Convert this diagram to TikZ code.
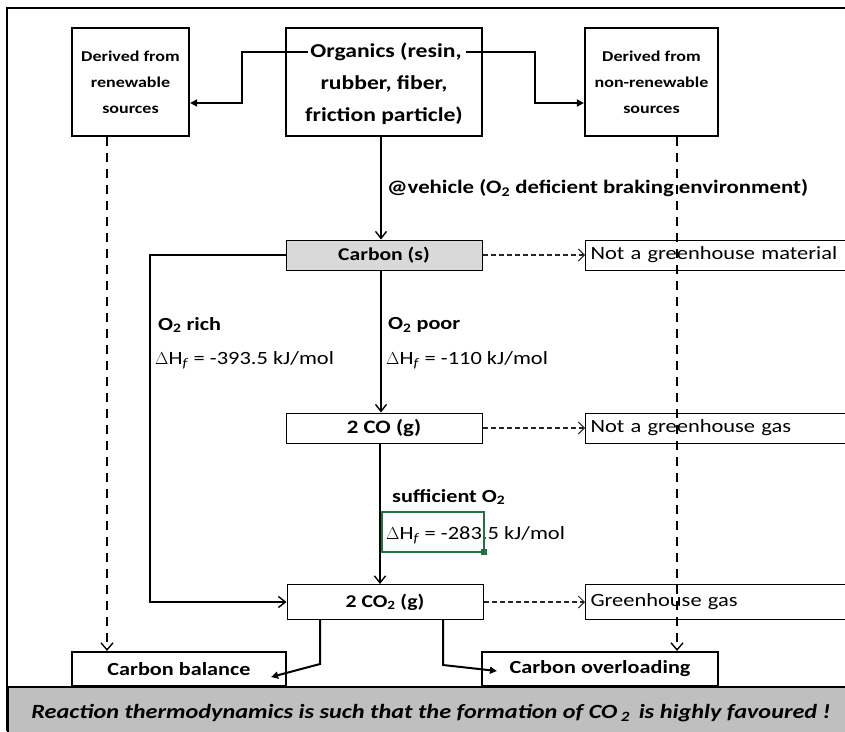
\documentclass[tikz,border=0pt]{standalone}
\usepackage{fontspec}
\setmainfont{Carlito}[FakeStretch=1.2]
\usetikzlibrary{arrows.meta}
\definecolor{boxgray}{HTML}{D9D9D9}
\definecolor{bargray}{HTML}{BFBFBF}
\definecolor{xlgreen}{HTML}{217346}
\newcommand{\sub}[1]{\textsubscript{#1}}
\newcommand{\fs}[1]{\fontsize{#1}{#1}\selectfont}
\begin{document}
\begin{tikzpicture}[x=1pt,y=-1pt,
  topbox/.style={draw, line width=2.2pt, minimum height=108pt, inner sep=0pt, align=center, font=\bfseries\fontsize{15}{26}\selectfont},
  midbox/.style={draw, line width=1pt, minimum width=196pt, minimum height=30pt, inner sep=0pt, font=\bfseries\fs{18}},
  rbox/.style={draw, line width=1pt, minimum height=30pt, text width=255pt, inner xsep=5pt, inner ysep=0pt, align=left, anchor=west, font=\fs{18.7}},
  botbox/.style={draw, line width=2.2pt, minimum height=34pt, inner sep=0pt, font=\bfseries\fs{18.5}},
  lbl/.style={anchor=west, inner sep=0pt, font=\bfseries\fs{18.5}},
  dh/.style={anchor=west, inner sep=0pt, font=\fs{18.7}},
  orgtxt/.style={inner sep=0pt, font=\bfseries\fs{19.7}},
  conn/.style={line width=2pt, -{Triangle[length=7pt,width=7pt]}},
  flow/.style={line width=1.4pt, -{Straight Barb[length=7pt,width=11pt,line width=1.4pt]}},
  dashconn/.style={line width=1.1pt, dash pattern=on 5pt off 3pt, gray!30!black, -{Straight Barb[length=6pt,width=12pt,line width=1pt]}},
  vdash/.style={line width=2pt, dash pattern=on 9pt off 7pt, -{Straight Barb[length=7pt,width=12pt,line width=1.4pt]}}
]
\useasboundingbox (0,0) rectangle (845,731);
\fill[white] (0,0) rectangle (845,731);

% outer frame
\draw[line width=2.2pt] (7,731) -- (7,8) -- (850,8);

% top boxes
\node[topbox, minimum width=117pt] (ren) at (130.5,82) {Derived from\\renewable\\sources};
\node[topbox, minimum width=196pt] (org) at (384,82) {};
\node[orgtxt] (org1) at (386,52) {Organics (resin,};
\node[orgtxt] (org2) at (384,84) {rubber, fiber,};
\node[orgtxt] (org3) at (384,116) {friction particle)};
\node[topbox, minimum width=133pt] (non) at (651.5,82) {Derived from\\non-renewable\\sources};

% middle column
\node[midbox, fill=boxgray] (carbon) at (384,255) {Carbon (s)};
\node[midbox, font=\bfseries\fs{19}] (co) at (384,428) {2 CO (g)};
\node[midbox, minimum height=35pt, font=\bfseries\fs{18}] (co2) at (385,602) {2 CO\sub{2} (g)};

% right boxes
\node[rbox] (nga) at (585,255) {Not a greenhouse material};
\node[rbox] (ngg) at (585,428) {Not a greenhouse gas};
\node[rbox, minimum height=35pt] (gg) at (585,602) {Greenhouse gas};

% bottom boxes
\node[botbox, minimum width=214pt] (cbal) at (179,669) {Carbon balance};
\node[botbox, minimum width=236pt] (cover) at (600,669) {Carbon overloading};

% labels
\node[lbl, font=\bfseries\fs{19}] (veh) at (387,188) {@vehicle (O\sub{2} deficient braking environment)};
\node[lbl] (rich) at (158,325) {O\sub{2} rich};
\node[dh] (dhrich) at (155,360) {$\Delta$H\sub{\textit{f}} = -393.5 kJ/mol};
\node[lbl] (poor) at (388,325) {O\sub{2} poor};
\node[dh] (dhpoor) at (386,360) {$\Delta$H\sub{\textit{f}} = -110 kJ/mol};
\node[lbl] (suff) at (392,497) {sufficient O\sub{2}};
\node[dh] (dhsuff) at (386,535) {$\Delta$H\sub{\textit{f}} = -283.5 kJ/mol};

% green selection artefact
\draw[xlgreen, line width=1.6pt] (382,512) rectangle (484,552);
\fill[xlgreen] (481,549) rectangle (487,555);

% connectors from organics
\draw[conn] ([xshift=-2pt]org1.west) -- (242,52) |- ([yshift=-21pt]ren.east);
\draw[conn] ([xshift=4pt]org1.east) -- (535,52) |- ([yshift=-21pt]non.west);

% main flow
\draw[flow] ([xshift=-3pt]org.south) -- ([xshift=-3pt]carbon.north);
\draw[flow] ([xshift=-3pt]carbon.south) -- ([xshift=-3pt]co.north);
\draw[flow] ([xshift=-4pt]co.south) -- ([xshift=-4pt]co.south |- co2.north);
\draw[flow] (carbon.west) -- (150,255) |- (co2.west);

% dashed to right boxes
\draw[dashconn] (carbon.east) -- (nga.west);
\draw[dashconn] (co.east) -- (ngg.west);
\draw[dashconn] (co2.east) -- (gg.west);

% vertical dashed
\draw[vdash] ([xshift=-23.5pt]ren.south) -- ([xshift=-23.5pt]ren.south |- cbal.north);
\draw[vdash] ([xshift=25.5pt]non.south) -- ([xshift=25.5pt]non.south |- cover.north);

% bottom connectors
\draw[conn] ([xshift=-65pt]co2.south) -- ++(0,44) -- ([xshift=-16pt,yshift=-8pt]cbal.east);
\draw[conn] ([xshift=58pt]co2.south) -- ++(0,45) -- ([xshift=16pt,yshift=-2pt]cover.west);

% bottom bar
\node[draw, line width=2.2pt, fill=bargray, minimum width=843pt, minimum height=46pt, inner sep=0pt, anchor=north west] (bar) at (7,686) {};
\node[inner sep=0pt, font=\bfseries\itshape\fs{20.2}] (bartext) at (431,713) {Reaction thermodynamics is such that the formation of CO\,\sub{2}\, is highly favoured !};
\end{tikzpicture}
\end{document}
